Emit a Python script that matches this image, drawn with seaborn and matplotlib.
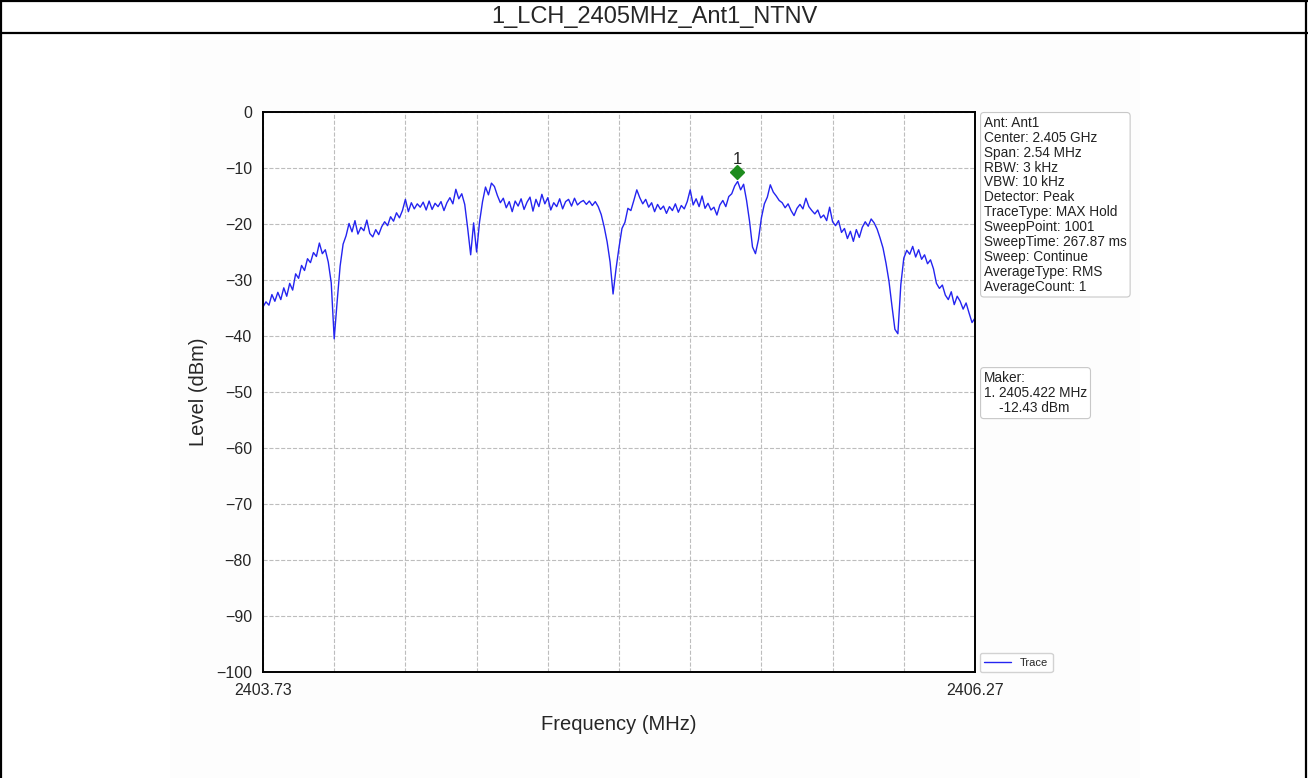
import numpy as np
import pandas as pd
import matplotlib
matplotlib.use("Agg")
import matplotlib.pyplot as plt
from matplotlib.lines import Line2D
from matplotlib.patches import Rectangle
import seaborn as sns

# Chart data
title = "1_LCH_2405MHz_Ant1_NTNV"
f_start = 2403.73
f_stop = 2406.27

# trace levels (dBm)
levels = [
    -34.8, -33.9, -34.5, -32.6, -33.8, -32.2, -33.5, -31.4, -32.9, -30.6, -31.8, -28.9,
    -29.7, -27.4, -28.3, -26.2, -26.9, -25.1, -25.8, -23.4, -25.3, -24.6, -26.8, -30.5,
    -40.5, -33.8, -27.5, -23.6, -22.1, -19.9, -21.4, -19.4, -21.8, -20.6, -21.2, -19.3,
    -21.7, -22.3, -21.0, -21.9, -20.5, -19.6, -20.3, -18.7, -19.5, -18.0, -18.9, -17.6,
    -15.6, -17.8, -16.2, -17.3, -16.4, -17.0, -16.1, -17.5, -15.9, -17.4, -16.3, -16.9,
    -16.0, -17.6, -16.2, -15.3, -16.4, -13.8, -15.5, -14.6, -16.5, -20.8, -25.5, -19.8,
    -25.0, -19.6, -16.0, -13.4, -14.8, -12.7, -13.3, -14.9, -16.2, -15.4, -17.1, -16.0,
    -17.8, -15.9, -16.8, -15.5, -17.4, -16.1, -15.2, -17.7, -15.6, -16.9, -14.7, -16.4,
    -15.3, -17.5, -16.2, -16.9, -15.5, -17.3, -16.0, -15.6, -16.8, -15.4, -16.6, -16.1,
    -15.8, -16.5, -15.9, -16.7, -16.0, -16.9, -18.3, -20.5, -23.2, -26.8, -32.5, -28.0,
    -24.2, -20.8, -19.7, -17.2, -17.6, -15.8, -13.9, -15.3, -16.4, -15.6, -17.0, -16.2,
    -17.8, -16.5, -17.4, -16.8, -18.1, -16.9, -17.6, -16.4, -17.9, -16.7, -17.3, -16.0,
    -13.9, -16.6, -15.5, -16.9, -15.0, -17.2, -16.3, -17.5, -17.0, -18.4, -16.6, -15.8,
    -16.9, -15.1, -14.6, -13.2, -12.4, -13.9, -12.9, -15.8, -19.5, -24.1, -25.3, -22.8,
    -18.9, -16.4, -15.2, -13.0, -14.3, -15.0, -15.8, -16.2, -17.1, -16.4, -17.6, -18.5,
    -17.2, -16.5, -17.3, -15.4, -16.9, -17.6, -18.2, -17.5, -18.9, -18.4, -19.4, -17.0,
    -19.6, -20.3, -19.4, -21.5, -20.8, -22.6, -21.3, -23.1, -21.0, -22.4, -20.6, -19.6,
    -20.4, -19.1, -19.8, -20.9, -22.5, -24.3, -27.0, -30.2, -34.6, -38.8, -39.6, -30.8,
    -26.1, -24.7, -25.4, -24.0, -25.9, -24.6, -26.3, -25.5, -27.1, -26.4, -28.0, -30.6,
    -31.5, -30.9, -32.7, -33.5, -32.1, -34.4, -32.9, -33.8, -35.2, -34.1, -35.9, -37.6,
    -36.8,
]

marker_freq = 2405.422
marker_level = -12.43
marker_plot_level = -10.8

info_lines = [
    "Ant: Ant1",
    "Center: 2.405 GHz",
    "Span: 2.54 MHz",
    "RBW: 3 kHz",
    "VBW: 10 kHz",
    "Detector: Peak",
    "TraceType: MAX Hold",
    "SweepPoint: 1001",
    "SweepTime: 267.87 ms",
    "Sweep: Continue",
    "AverageType: RMS",
    "AverageCount: 1",
]
marker_lines = ["Maker:", "1. 2405.422 MHz", "    -12.43 dBm"]

y_ticks = [0, -10, -20, -30, -40, -50, -60, -70, -80, -90, -100]

# sweep grid
df = pd.DataFrame({
    "freq": np.linspace(f_start, f_stop, len(levels)),
    "level": levels,
})

sns.set_style("white")
plt.rcParams["font.family"] = ["Liberation Sans", "DejaVu Sans"]

fig = plt.figure(figsize=(13.08, 7.78), dpi=100)

# page frame + title row
fig.add_artist(Rectangle((170 / 1308, 0), 970 / 1308, 738 / 778,
                         transform=fig.transFigure, facecolor="#fdfdfd",
                         edgecolor="none", zorder=0))
for coords in [([0, 1], [1 - 1 / 778] * 2), ([0, 1], [1 - 33 / 778] * 2),
               ([1 / 1308] * 2, [0, 1]), ([1 - 2 / 1308] * 2, [0, 1])]:
    fig.add_artist(Line2D(coords[0], coords[1], transform=fig.transFigure,
                          color="black", lw=1.6))
fig.text(0.5, 1 - 17 / 778, title, ha="center", va="center", fontsize=17)

ax = fig.add_axes([263 / 1308, 1 - 672 / 778, 712 / 1308, 560 / 778])
ax.set_facecolor("white")

sns.lineplot(data=df, x="freq", y="level", ax=ax, color="#2424f0",
             lw=1.0, label="Trace", sort=False)
ax.plot([marker_freq], [marker_plot_level], marker="D", color="#1e8c1e",
        markersize=7, ls="none")
ax.text(marker_freq, marker_plot_level + 0.9, "1", ha="center", va="bottom",
        fontsize=12)

ax.set_xlim(f_start, f_stop)
ax.set_ylim(-100, 0)
x_ticks = np.linspace(f_start, f_stop, 11)
ax.set_xticks(x_ticks)
ax.set_xticklabels([f"{f_start:.2f}"] + [""] * 9 + [f"{f_stop:.2f}"])
ax.set_yticks(y_ticks)
ax.tick_params(axis="both", direction="out", length=5, width=1.2,
               labelsize=11.5, pad=3, color="black")
ax.grid(True, linestyle="--", color="#bdbdbd", lw=0.8)
for s in ax.spines.values():
    s.set_color("black")
    s.set_linewidth(1.4)

ax.set_xlabel("Frequency (MHz)", fontsize=14.5, labelpad=12)
ax.set_ylabel("Level (dBm)", fontsize=14.5, labelpad=6)

box = dict(boxstyle="round,pad=0.25", fc="white", ec="#c8c8c8", lw=0.8)
ax.text(1.0126, 0.993, "\n".join(info_lines), transform=ax.transAxes,
        ha="left", va="top", fontsize=9.8, linespacing=1.08, bbox=box,
        color="#222222")
ax.text(1.0126, 0.5375, "\n".join(marker_lines), transform=ax.transAxes,
        ha="left", va="top", fontsize=9.8, linespacing=1.1, bbox=box,
        color="#222222")

ax.legend(loc="lower left", bbox_to_anchor=(1.007, 0.0), borderaxespad=0,
          fontsize=8, frameon=True, edgecolor="#c8c8c8", handlelength=2.4)

fig.savefig("out.png", dpi=100)
